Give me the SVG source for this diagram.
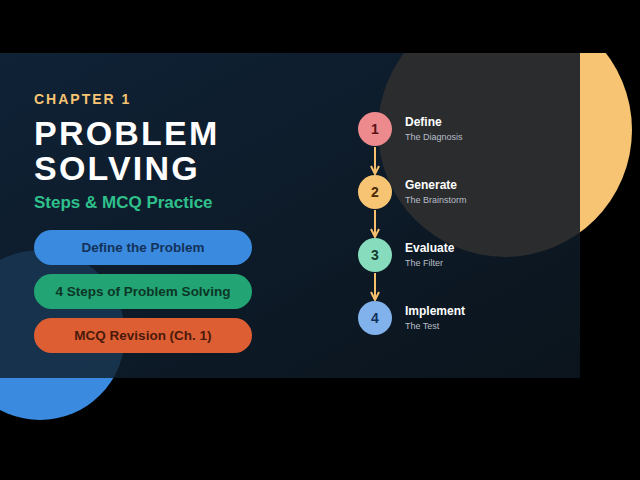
<svg xmlns="http://www.w3.org/2000/svg" width="640" height="480" viewBox="0 0 640 480">
<defs>
<linearGradient id="bg" x1="0" y1="0" x2="1" y2="1"><stop offset="0" stop-color="#0f2236"/><stop offset="1" stop-color="#0b141c"/></linearGradient>
<clipPath id="panel"><rect x="0" y="53" width="580" height="325"/></clipPath>
<clipPath id="outside"><path d="M0 0H640V480H0Z M0 53V378H580V53Z" clip-rule="evenodd"/></clipPath>
<marker id="ah" viewBox="0 0 10 10" refX="9" refY="5" markerWidth="10" markerHeight="10" markerUnits="userSpaceOnUse" orient="auto"><path d="M1 1L9 5L1 9" fill="none" stroke="#f6bf6e" stroke-width="2"/></marker>
<style>
.t{font-family:"Liberation Sans",Arial,sans-serif;font-weight:bold}
.btn{font-family:"Liberation Sans",Arial,sans-serif;font-weight:bold;font-size:13.5px;text-anchor:middle}
.num{font-family:"Liberation Sans",Arial,sans-serif;font-weight:bold;font-size:14px;text-anchor:middle}
.st{font-family:"Liberation Sans",Arial,sans-serif;font-weight:bold;font-size:12px;fill:#ffffff}
.sub{font-family:"Liberation Sans",Arial,sans-serif;font-size:9px;fill:#b8bec6}
.arr{stroke:#f6bf6e;stroke-width:2;fill:none;marker-end:url(#ah)}
</style>
</defs>
<rect width="640" height="480" fill="#000"/>
<g clip-path="url(#outside)">
<circle cx="505" cy="130" r="127" fill="#f6c472"/>
<circle cx="40" cy="335" r="85" fill="#3a8ae0"/>
</g>
<rect x="0" y="0" width="640" height="53" fill="#000"/>
<rect x="0" y="53" width="580" height="325" fill="url(#bg)"/>
<g clip-path="url(#panel)">
<circle cx="505" cy="130" r="127" fill="#2a2c2e"/>
<circle cx="40" cy="335" r="85" fill="#183550" opacity="0.9"/>
</g>
<text class="t" x="34" y="104" font-size="14" fill="#f6c472" letter-spacing="2">CHAPTER 1</text>
<text class="t" x="34" y="145" font-size="34" fill="#ffffff" letter-spacing="2.2">PROBLEM</text>
<text class="t" x="34" y="180" font-size="34" fill="#ffffff" letter-spacing="2.2">SOLVING</text>
<text class="t" x="34" y="208" font-size="17" fill="#2fc08c">Steps &amp; MCQ Practice</text>
<g id="btn1"><rect x="34" y="230" width="218" height="35" rx="17.5" fill="#3a8ae0"/><text class="btn" x="143" y="252" fill="#13325a">Define the Problem</text></g>
<g id="btn2"><rect x="34" y="274" width="218" height="35" rx="17.5" fill="#22a474"/><text class="btn" x="143" y="296" fill="#0b3626">4 Steps of Problem Solving</text></g>
<g id="btn3"><rect x="34" y="318" width="218" height="35" rx="17.5" fill="#de5e34"/><text class="btn" x="143" y="340" fill="#4a1a0a">MCQ Revision (Ch. 1)</text></g>
<g id="connectors">
<line class="arr" x1="375" y1="147" x2="375" y2="174"/>
<line class="arr" x1="375" y1="210" x2="375" y2="237"/>
<line class="arr" x1="375" y1="273" x2="375" y2="300"/>
</g>
<g id="s1"><circle cx="375" cy="129" r="17" fill="#ec8a8e"/><text class="num" x="375" y="134" fill="#5a1216">1</text><text class="st" x="405" y="126">Define</text><text class="sub" x="405" y="140">The Diagnosis</text></g>
<g id="s2"><circle cx="375" cy="192" r="17" fill="#f6c472"/><text class="num" x="375" y="197" fill="#4a2a08">2</text><text class="st" x="405" y="189">Generate</text><text class="sub" x="405" y="203">The Brainstorm</text></g>
<g id="s3"><circle cx="375" cy="255" r="17" fill="#86dcbc"/><text class="num" x="375" y="260" fill="#123a2c">3</text><text class="st" x="405" y="252">Evaluate</text><text class="sub" x="405" y="266">The Filter</text></g>
<g id="s4"><circle cx="375" cy="318" r="17" fill="#82b2ec"/><text class="num" x="375" y="323" fill="#12305a">4</text><text class="st" x="405" y="315">Implement</text><text class="sub" x="405" y="329">The Test</text></g>
</svg>
